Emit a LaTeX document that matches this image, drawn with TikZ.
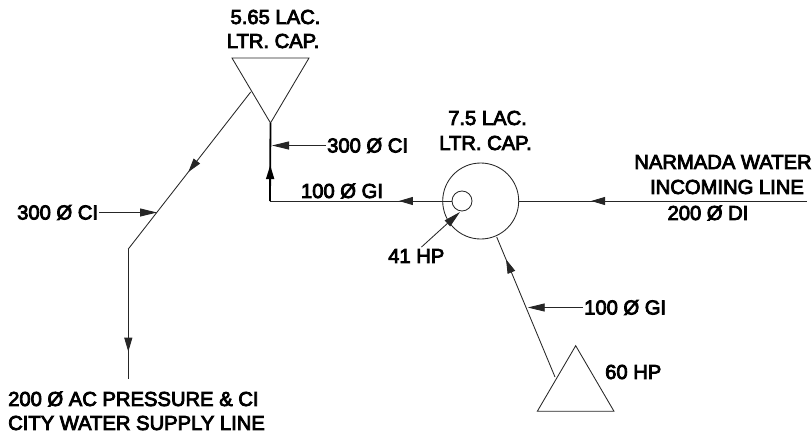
\documentclass[tikz,border=0pt]{standalone}
\usepackage{fontspec}
\usetikzlibrary{arrows.meta,decorations.markings}
\newfontfamily\labelfont[FakeBold=4]{Liberation Sans}
\tikzstyle{pipe} = [draw=black!85, line width=0.85pt]
\tikzstyle{mainpipe} = [draw=black, line width=1.8pt]
\tikzstyle{tag} = [font=\labelfont\fontsize{20.2}{22}\selectfont, inner sep=1pt, text=black]
\tikzstyle{tankbox} = [draw=black!85, line width=0.85pt, circle, inner sep=0, fill=white]
\tikzset{
    flowtip/.style={postaction={decorate}, decoration={markings,
        mark=at position #1 with {\arrow{Triangle[length=14pt,width=8pt]}}}},
    leader/.style={pipe, -{Triangle[length=17pt,width=8pt]}}
}

\begin{document}
\begin{tikzpicture}[x=1pt, y=-1pt]
    \useasboundingbox (0,0) rectangle (812,437);
    % tanks and pumps
    \coordinate (upleft) at (232,58);
    \coordinate (upright) at (309,58);
    \coordinate (uptip) at (270.5,123);
    \coordinate (upout) at (250.7,92);
    \coordinate (lowtop) at (575.7,345.7);
    \coordinate (lowleft) at (537.3,411.3);
    \coordinate (lowright) at (614,411.3);
    \coordinate (lowout) at (555,377);
    \draw[pipe] (upleft) -- (upright) -- (uptip) -- cycle;
    \draw[pipe] (lowtop) -- (lowleft) -- (lowright) -- cycle;
    \node[tankbox, minimum size=76pt] (sump) at (480.7,201) {};
    \node[tankbox, minimum size=20pt] (pump) at (462,201) {};

    % pipe runs
    \coordinate (corner) at (270,201);
    \coordinate (bend) at (128.3,249);
    \coordinate (cityend) at (128.3,379);
    \coordinate (narmada) at (807,201);
    \draw[pipe, flowtip=0.75] (narmada) -- (sump.east);
    \draw[pipe, flowtip=0.29] (pump.west) -- (corner);
    \draw[mainpipe, flowtip=0.46] (corner) -- (uptip);
    \draw[pipe, flowtip=0.84] (lowout) -- (496.7,237);
    \draw[pipe, flowtip=0.51] (upout) -- (bend);
    \draw[pipe, flowtip=0.79] (bend) -- (cityend);

    % labels
    \node[tag] (uptitle) at (275.5,17) {5.65 LAC.};
    \node[tag] (upcap) at (273,41) {LTR. CAP.};
    \node[tag] (sumptitle) at (487.5,118) {7.5 LAC.};
    \node[tag] (sumpcap) at (485.5,143) {LTR. CAP.};
    \node[tag, anchor=west] (topci) at (326,145.5) {300 \O{} CI};
    \node[tag] (topgi) at (342,191) {100 \O{} GI};
    \node[tag, anchor=west] (leftci) at (16,212.5) {300 \O{} CI};
    \node[tag] (water) at (723,162) {NARMADA WATER};
    \node[tag] (incoming) at (727,187) {INCOMING LINE};
    \node[tag] (di) at (708,213) {200 \O{} DI};
    \node[tag, anchor=west] (hpsmall) at (387,256) {41 HP};
    \node[tag, anchor=west] (lowgi) at (583,307.5) {100 \O{} GI};
    \node[tag, anchor=west] (hplarge) at (604,372) {60 HP};
    \node[tag, anchor=west] (city) at (7,399) {200 \O{} AC PRESSURE \& CI};
    \node[tag, anchor=west] (supply) at (7,423) {CITY WATER SUPPLY LINE};

    % leaders
    \coordinate (topmark) at (272,145.5);
    \coordinate (leftmark) at (157,212.5);
    \coordinate (lowmark) at (527.7,307.5);
    \coordinate (hpfoot) at (421.5,247);
    \coordinate (pumpfoot) at (460,212);
    \draw[leader] (topci.west) -- (topmark);
    \draw[leader] (leftci.east) -- (leftmark);
    \draw[leader] (lowgi.west) -- (lowmark);
    \draw[leader] (hpfoot) -- (pumpfoot);
\end{tikzpicture}
\end{document}
